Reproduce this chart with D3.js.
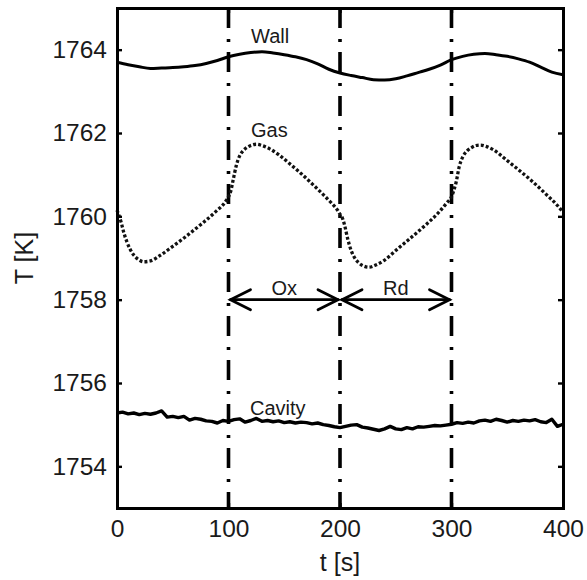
<!DOCTYPE html>
<html>
<head>
<meta charset="utf-8">
<script src="https://cdn.jsdelivr.net/npm/d3@7"></script>
<style>
  html, body { margin: 0; padding: 0; background: #fff; }
  svg { display: block; }
  text { font-family: "Liberation Sans", Arial, Helvetica, sans-serif; fill: #1a1a1a; }
</style>
</head>
<body>
<svg id="chart" width="587" height="580"></svg>
<script>
// Temperatures over two redox cycles (oxidation 100-200 s, reduction 200-300 s)
const xTicks = [0, 100, 200, 300, 400];
const yTicks = [1754, 1756, 1758, 1760, 1762, 1764];
const phaseBounds = [100, 200, 300];

// Wall temperature
const wallT = [0,10,20,30,40,50,60,70,80,90,100,110,120,130,140,150,160,170,180,190,200,
               210,220,230,240,250,260,270,280,290,300,310,320,330,340,350,360,370,380,390,400];
const wallK = [1763.70,1763.64,1763.59,1763.55,1763.56,1763.57,1763.59,1763.62,1763.67,1763.74,1763.83,
               1763.89,1763.93,1763.95,1763.92,1763.88,1763.83,1763.76,1763.66,1763.53,1763.44,
               1763.38,1763.33,1763.28,1763.27,1763.30,1763.37,1763.45,1763.53,1763.63,1763.76,
               1763.84,1763.89,1763.91,1763.88,1763.84,1763.78,1763.70,1763.58,1763.46,1763.40];

// Gas temperature
const gasT = [0,2,4,6,9,12,15,19,24,30,38,50,62,75,88,98,100,102,104,107,110,113,117,121,125,130,137,
              145,155,165,175,185,193,198,200,202,204,207,210,213,217,221,226,232,240,250,262,275,288,
              296,300,302,304,307,310,314,318,322,326,331,338,348,360,372,384,395,400];
const gasK = [1760.15,1760.00,1759.83,1759.62,1759.38,1759.20,1759.07,1758.97,1758.91,1758.93,1759.05,
              1759.28,1759.52,1759.80,1760.10,1760.38,1760.47,1760.60,1760.85,1761.22,1761.45,1761.57,
              1761.66,1761.71,1761.73,1761.70,1761.62,1761.48,1761.26,1761.03,1760.78,1760.52,1760.30,
              1760.14,1760.05,1759.97,1759.80,1759.45,1759.18,1759.01,1758.88,1758.81,1758.78,1758.83,
              1758.95,1759.18,1759.45,1759.75,1760.08,1760.33,1760.47,1760.62,1760.80,1761.20,1761.42,
              1761.57,1761.65,1761.70,1761.71,1761.68,1761.59,1761.38,1761.12,1760.85,1760.55,1760.26,
              1760.10];

// Cavity temperature, sampled every 5 s
const cavityT = d3.range(0, 401, 5);
const cavityK = [1755.28,1755.30,1755.26,1755.28,1755.24,1755.27,1755.25,1755.28,1755.33,1755.18,
                 1755.20,1755.17,1755.20,1755.11,1755.15,1755.13,1755.09,1755.08,1755.04,1755.10,
                 1755.08,1755.12,1755.14,1755.06,1755.10,1755.15,1755.08,1755.10,1755.07,1755.09,
                 1755.05,1755.07,1755.04,1755.06,1755.05,1755.02,1755.04,1755.00,1754.98,1754.95,
                 1754.93,1754.96,1754.99,1755.00,1754.94,1754.92,1754.89,1754.86,1754.90,1754.96,
                 1754.90,1754.88,1754.93,1754.90,1754.95,1754.94,1754.96,1754.98,1754.97,1754.99,
                 1755.01,1755.05,1755.03,1755.06,1755.04,1755.09,1755.11,1755.08,1755.13,1755.10,
                 1755.06,1755.10,1755.08,1755.11,1755.09,1755.12,1755.07,1755.05,1755.13,1754.96,
                 1755.01];

const svg = d3.select("#chart");
const L = 117, R = 563, T = 8, B = 508;
const x = d3.scaleLinear().domain([0, 400]).range([L, R]);
const y = d3.scaleLinear().domain([1753, 1765]).range([B, T]);

// phase boundaries (dash-dot)
svg.append("g").selectAll("line").data(phaseBounds).join("line")
  .attr("x1", d => x(d)).attr("x2", d => x(d))
  .attr("y1", T).attr("y2", B)
  .attr("stroke", "#000").attr("stroke-width", 3.6)
  .attr("stroke-dasharray", "20,11,3,10");

const zip = (ts, vs) => ts.map((t, i) => [t, vs[i]]);
const smooth = d3.line().x(d => x(d[0])).y(d => y(d[1])).curve(d3.curveMonotoneX);
const rough = d3.line().x(d => x(d[0])).y(d => y(d[1]));

svg.append("path").datum(zip(wallT, wallK)).attr("d", smooth)
  .attr("fill", "none").attr("stroke", "#000").attr("stroke-width", 3);

svg.append("path").datum(zip(gasT, gasK)).attr("d", smooth)
  .attr("fill", "none").attr("stroke", "#111").attr("stroke-width", 3.3)
  .attr("stroke-dasharray", "3,2.1");

svg.append("path").datum(zip(cavityT, cavityK)).attr("d", rough)
  .attr("fill", "none").attr("stroke", "#000").attr("stroke-width", 3.4)
  .attr("stroke-linejoin", "round");

// axes box with inward ticks
const tickLen = 5;
const axes = svg.append("g");
axes.append("g").attr("transform", `translate(0,${B})`)
  .call(d3.axisBottom(x).tickValues(xTicks).tickSize(-tickLen).tickPadding(12).tickFormat(d3.format("d")));
axes.append("g").attr("transform", `translate(0,${T})`)
  .call(d3.axisTop(x).tickValues(xTicks).tickSize(-tickLen).tickFormat(""));
axes.append("g").attr("transform", `translate(${L},0)`)
  .call(d3.axisLeft(y).tickValues(yTicks).tickSize(-tickLen).tickPadding(10).tickFormat(d3.format("d")));
axes.append("g").attr("transform", `translate(${R},0)`)
  .call(d3.axisRight(y).tickValues(yTicks).tickSize(-tickLen).tickFormat(""));
axes.selectAll(".domain").attr("stroke", "#000").attr("stroke-width", 3);
axes.selectAll(".tick line").attr("stroke", "#000").attr("stroke-width", 2.4);
axes.selectAll(".tick text").attr("font-size", 24.5).attr("fill", "#1a1a1a")
  .attr("font-family", "'Liberation Sans', Arial, sans-serif");

// axis titles
svg.append("text").attr("x", x(200)).attr("y", 571).attr("text-anchor", "middle")
  .attr("font-size", 25).text("t [s]");
svg.append("text").attr("transform", `translate(33,${y(1759)}) rotate(-90)`)
  .attr("text-anchor", "middle").attr("font-size", 25).text("T [K]");

// curve labels
svg.append("text").attr("x", 251).attr("y", 43).attr("font-size", 20).text("Wall");
svg.append("text").attr("x", 251).attr("y", 137).attr("font-size", 20).text("Gas");
svg.append("text").attr("x", 250).attr("y", 415).attr("font-size", 20).text("Cavity");

// phase arrows
const arrowY = y(1758);
function arrow(t0, t1) {
  const g = svg.append("g").attr("stroke", "#000").attr("fill", "none")
    .attr("stroke-width", 2.8).attr("stroke-linecap", "round").attr("stroke-linejoin", "miter");
  const a = x(t0) + 2, b = x(t1) - 2;
  g.append("line").attr("x1", a).attr("x2", b).attr("y1", arrowY).attr("y2", arrowY);
  g.append("path").attr("d", `M${a + 20},${arrowY - 10}L${a},${arrowY}L${a + 20},${arrowY + 10}`);
  g.append("path").attr("d", `M${b - 20},${arrowY - 10}L${b},${arrowY}L${b - 20},${arrowY + 10}`);
}
arrow(100, 200);
arrow(200, 300);
svg.append("text").attr("x", x(150)).attr("y", 295).attr("text-anchor", "middle")
  .attr("font-size", 20).text("Ox");
svg.append("text").attr("x", x(250)).attr("y", 295).attr("text-anchor", "middle")
  .attr("font-size", 20).text("Rd");
</script>
</body>
</html>
